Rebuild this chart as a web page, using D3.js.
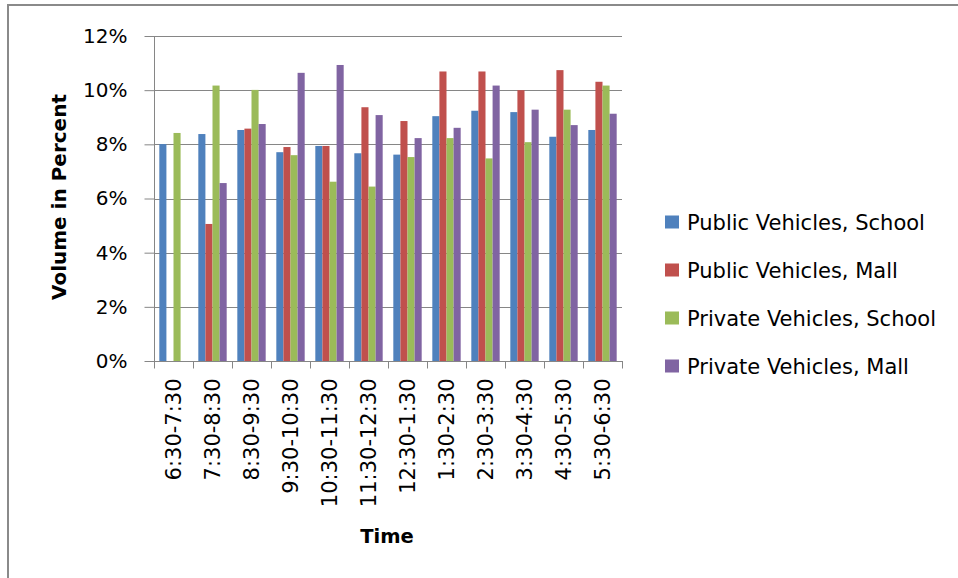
<!DOCTYPE html>
<html>
<head>
<meta charset="utf-8">
<script src="https://cdn.jsdelivr.net/npm/d3@7"></script>
<style>
  html, body { margin: 0; padding: 0; background: #fff; }
  svg { display: block; }
  text { font-family: "DejaVu Sans", sans-serif; fill: #000; }
</style>
</head>
<body>
<svg id="chart" width="958" height="578"></svg>
<script>
const categories = ["6:30-7:30","7:30-8:30","8:30-9:30","9:30-10:30","10:30-11:30","11:30-12:30","12:30-1:30","1:30-2:30","2:30-3:30","3:30-4:30","4:30-5:30","5:30-6:30"];
const seriesNames = ["Public Vehicles, School","Public Vehicles, Mall","Private Vehicles, School","Private Vehicles, Mall"];
const publicSchool  = [8.01, 8.38, 8.53, 7.71, 7.94, 7.67, 7.62, 9.04, 9.24, 9.19, 8.28, 8.53];
const publicMall    = [0,    5.06, 8.58, 7.90, 7.94, 9.37, 8.86, 10.69, 10.69, 10.00, 10.74, 10.31];
const privateSchool = [8.42, 10.17, 10.01, 7.60, 6.62, 6.44, 7.53, 8.23, 7.48, 8.08, 9.28, 10.17];
const privateMall   = [0,    6.57, 8.75, 10.64, 10.93, 9.08, 8.23, 8.61, 10.17, 9.28, 8.71, 9.13];
const yTicks = [0, 2, 4, 6, 8, 10, 12];
const colors = ["#4F81BD", "#C0504D", "#9BBB59", "#8064A2"];

const seriesValues = [publicSchool, publicMall, privateSchool, privateMall];

const svg = d3.select("#chart");

// chart border (left and top visible)
svg.append("line").attr("x1", 8).attr("x2", 8).attr("y1", 5).attr("y2", 578)
  .attr("stroke", "#8a8a8a").attr("stroke-width", 2);
svg.append("line").attr("x1", 7).attr("x2", 958).attr("y1", 5).attr("y2", 5)
  .attr("stroke", "#8a8a8a").attr("stroke-width", 2);

const plot = { left: 154, right: 622, top: 36, bottom: 361 };

const x = d3.scaleBand().domain(categories).range([plot.left, plot.right]).paddingInner(0).paddingOuter(0);
const y = d3.scaleLinear().domain([0, 12]).range([plot.bottom, plot.top]);

const gapRatio = 1.5;
const barW = x.bandwidth() / (seriesNames.length + gapRatio);
const groupOffset = barW * gapRatio / 2;

// gridlines
svg.append("g").selectAll("line").data(yTicks.filter(d => d > 0)).join("line")
  .attr("x1", plot.left).attr("x2", plot.right)
  .attr("y1", d => Math.round(y(d)) + 0.5).attr("y2", d => Math.round(y(d)) + 0.5)
  .attr("stroke", "#868686").attr("stroke-width", 1);

// bars
const rows = [];
seriesValues.forEach((vals, si) => {
  vals.forEach((v, ci) => rows.push({ s: si, c: categories[ci], v }));
});
svg.append("g").selectAll("rect").data(rows.filter(d => d.v > 0)).join("rect")
  .attr("x", d => x(d.c) + groupOffset + d.s * barW)
  .attr("width", barW)
  .attr("y", d => y(d.v))
  .attr("height", d => y(0) - y(d.v))
  .attr("fill", d => colors[d.s]);

// y axis
const yAxis = d3.axisLeft(y).tickValues(yTicks).tickFormat(d => d + "%").tickSize(10).tickPadding(17);
const gy = svg.append("g").attr("transform", `translate(${plot.left + 0.5},0)`).call(yAxis);
gy.select(".domain").attr("stroke", "#868686").attr("d", `M0,${plot.top}V${plot.bottom}`);
gy.selectAll(".tick line").attr("stroke", "#868686");
gy.selectAll(".tick text").attr("font-family", "DejaVu Sans").attr("font-size", 20).attr("fill", "#000");

// x axis
const gx = svg.append("g").attr("transform", `translate(0,${plot.bottom + 0.5})`);
gx.append("line").attr("x1", plot.left).attr("x2", plot.right + 1).attr("y1", 0).attr("y2", 0)
  .attr("stroke", "#868686");
const bounds = categories.map(c => x(c)).concat([plot.right]);
gx.selectAll("line.tk").data(bounds).join("line").attr("class", "tk")
  .attr("x1", d => Math.round(d) + 0.5).attr("x2", d => Math.round(d) + 0.5)
  .attr("y1", 0).attr("y2", 7).attr("stroke", "#868686");
gx.selectAll("text.lbl").data(categories).join("text").attr("class", "lbl")
  .attr("transform", d => `translate(${x(d) + x.bandwidth() / 2 + 7},17) rotate(-90)`)
  .attr("text-anchor", "end")
  .attr("font-size", 21)
  .text(d => d);

// axis titles
svg.append("text").attr("x", 387).attr("y", 543).attr("text-anchor", "middle")
  .attr("font-weight", "bold").attr("font-size", 19.5).text("Time");
svg.append("text").attr("transform", "translate(66,197) rotate(-90)").attr("text-anchor", "middle")
  .attr("font-weight", "bold").attr("font-size", 20).text("Volume in Percent");

// legend
const legend = svg.append("g").selectAll("g").data(seriesNames).join("g")
  .attr("transform", (d, i) => `translate(665,${222 + i * 48})`);
legend.append("rect").attr("x", 0).attr("y", -6.5).attr("width", 14).attr("height", 13)
  .attr("fill", (d, i) => colors[i]);
legend.append("text").attr("x", 22).attr("y", 0).attr("dy", "0.36em")
  .attr("font-size", 21).text(d => d);
</script>
</body>
</html>
